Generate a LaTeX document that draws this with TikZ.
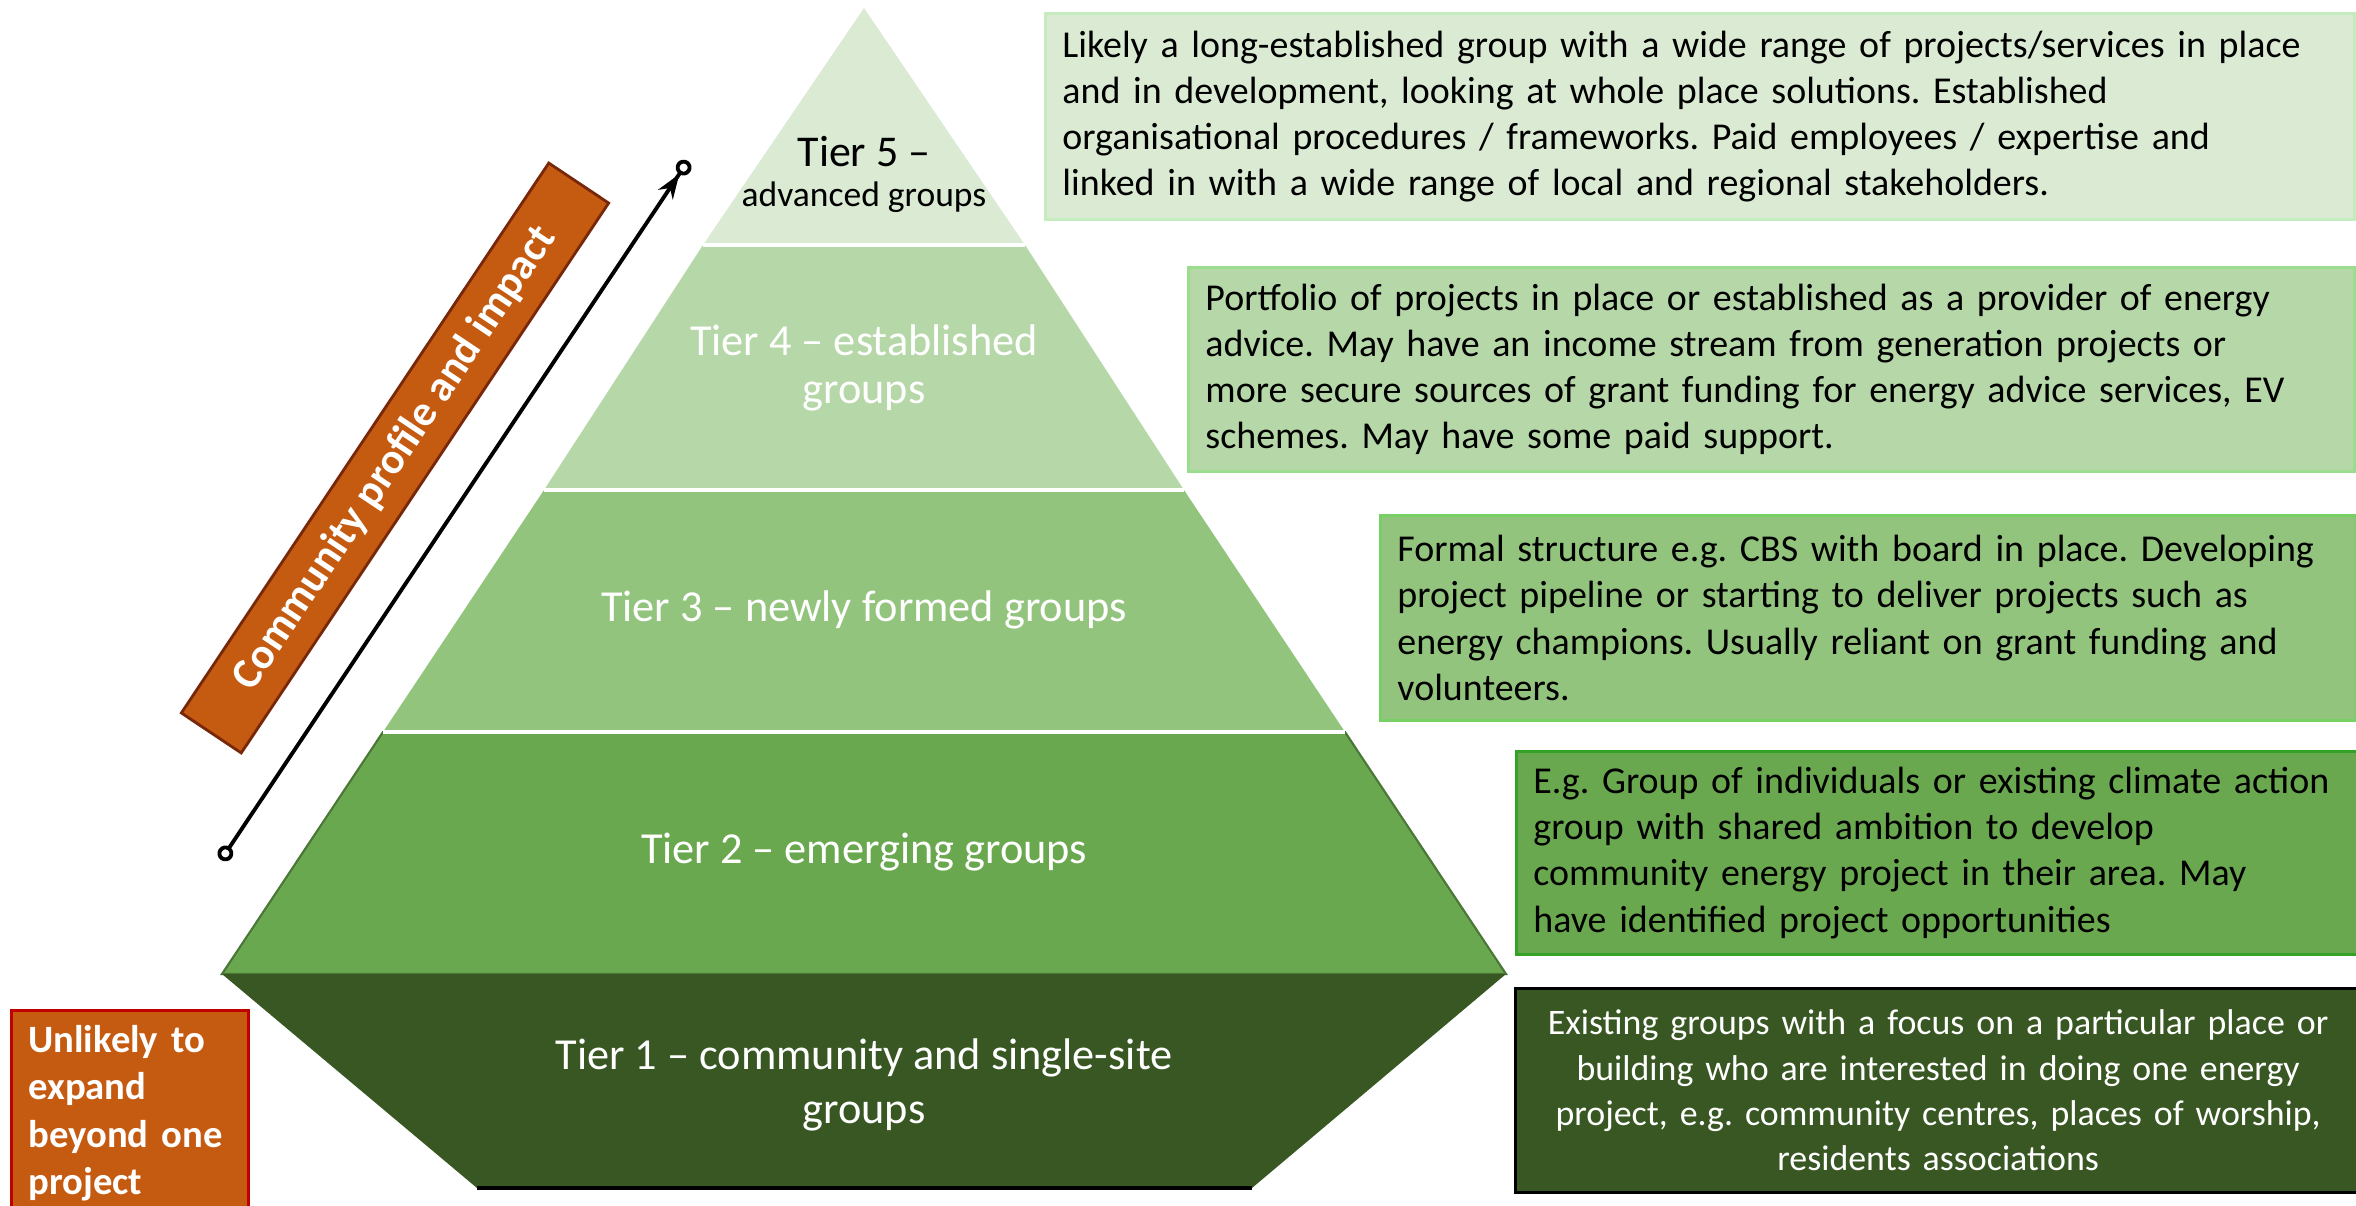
\documentclass[tikz,border=0pt]{standalone}
\usepackage{fontspec}
\setmainfont{Carlito}
\usetikzlibrary{arrows.meta}
\frenchspacing

\definecolor{tierfive}{RGB}{218,234,211}
\definecolor{tierfour}{RGB}{182,215,168}
\definecolor{tierthree}{RGB}{147,196,125}
\definecolor{tiertwo}{RGB}{106,168,79}
\definecolor{tierone}{RGB}{56,87,35}
\definecolor{bannerfill}{RGB}{197,90,17}
\definecolor{bannerline}{RGB}{120,40,10}
\definecolor{unlikelyline}{RGB}{192,0,0}

\begin{document}
\begin{tikzpicture}[x=0.01cm, y=-0.01cm,
        descbox/.style={anchor=north west, inner xsep=0.17cm, inner ysep=0pt, align=left, line width=0.8pt, font=\fontsize{10.8}{13.1}\selectfont},
        tierlabel/.style={align=center, text=white, font=\fontsize{12.6}{13.7}\selectfont}]
    \useasboundingbox (0,0) rectangle (2356,1206);

    % pyramid
    \fill[tierfive] (864,8) -- (703,245) -- (1025,245) -- cycle;
    \fill[tierfour] (703,245) -- (544,490) -- (1184,490) -- (1025,245) -- cycle;
    \fill[tierthree] (544,490) -- (383,732) -- (1345,732) -- (1184,490) -- cycle;
    \fill[tiertwo, draw=tiertwo!70!black, line width=0.6pt] (383,732) -- (222,974) -- (1506,974) -- (1345,732) -- cycle;
    \fill[tierone] (222,974) -- (477,1188) -- (1252,1188) -- (1506,974) -- cycle;
    \draw[black, line width=1.2pt] (477,1188) -- (1252,1188);

    % white lines between tiers
    \draw[white, line width=1pt] (703,245) -- (1025,245);
    \draw[white, line width=1pt] (544,490) -- (1184,490);
    \draw[white, line width=1pt] (383,732) -- (1345,732);

    % tier labels
    \node[font=\fontsize{12.5}{14}\selectfont] (tfive) at (864,152) {Tier 5 --};
    \node[font=\fontsize{10.1}{12}\selectfont] (tfivesub) at (864,197) {advanced groups};
    \node[tierlabel] (tfour) at (864,368) {Tier 4 -- established\\groups};
    \node[tierlabel] (tthree) at (864,610) {Tier 3 -- newly formed groups};
    \node[tierlabel] (ttwo) at (864,852) {Tier 2 -- emerging groups};
    \node[tierlabel, font=\fontsize{12.6}{15.4}\selectfont] (tone) at (864,1085) {Tier 1 -- community and single-site\\groups};

    % description boxes
    \node[descbox, fill=tierfive, draw=tierfive!90!green, minimum width=13.08cm, text width=12.74cm, minimum height=2.06cm] (dfive) at (1044,12)
        {Likely a long-established group with a wide range of projects/services in place\\and in development, looking at whole place solutions. Established\\organisational procedures / frameworks. Paid employees / expertise and\\linked in with a wide range of local and regional stakeholders.};
    \node[descbox, fill=tierfour, draw=tierfour!85!green, minimum width=11.65cm, text width=11.31cm, minimum height=2.04cm] (dfour) at (1187,266)
        {Portfolio of projects in place or established as a provider of energy\\advice. May have an income stream from generation projects or\\more secure sources of grant funding for energy advice services, EV\\schemes. May have some paid support.};
    \node[descbox, fill=tierthree, draw=tierthree!80!green, minimum width=9.75cm, text width=9.41cm, minimum height=2.05cm] (dthree) at (1379,514)
        {Formal structure e.g. CBS with board in place. Developing\\project pipeline or starting to deliver projects such as\\energy champions. Usually reliant on grant funding and\\volunteers.};
    \node[descbox, fill=tiertwo, draw=tiertwo!60!green!80!black, minimum width=8.45cm, text width=8.11cm, minimum height=2.03cm] (dtwo) at (1515,750)
        {E.g. Group of individuals or existing climate action\\group with shared ambition to develop\\community energy project in their area. May\\have identified project opportunities};
    \node[descbox, align=center, text=white, fill=tierone, draw=black, inner xsep=0.05cm, minimum width=8.45cm, text width=8.35cm, minimum height=2.04cm, font=\fontsize{10.2}{12.9}\selectfont] (done) at (1514,987)
        {Existing groups with a focus on a particular place or\\building who are interested in doing one energy\\project, e.g. community centres, places of worship,\\residents associations};

    % community profile banner and arrow
    \node[rotate=56.25, fill=bannerfill, draw=bannerline, line width=0.8pt, minimum width=6.61cm, minimum height=0.72cm, text=white, font=\bfseries\fontsize{12.3}{14}\selectfont] (banner) at (395,458) {Community profile and impact};
    \coordinate (arrowlo) at (221,860);
    \coordinate (arrowhi) at (688,161);
    \draw[line width=1.1pt, {Circle[open, length=4.5pt]}-{Stealth[length=7pt, width=5pt] Circle[open, length=4.5pt]}] (arrowlo) -- (arrowhi);

    % unlikely box
    \node[anchor=north west, fill=bannerfill, draw=unlikelyline, line width=0.8pt, minimum width=2.37cm, minimum height=2.05cm, text width=2.03cm, inner xsep=0.17cm, align=left, text=white, font=\bfseries\fontsize{11}{13.5}\selectfont] (unlikely) at (10,1009)
        {Unlikely to\\expand\\beyond one\\project};
\end{tikzpicture}
\end{document}
